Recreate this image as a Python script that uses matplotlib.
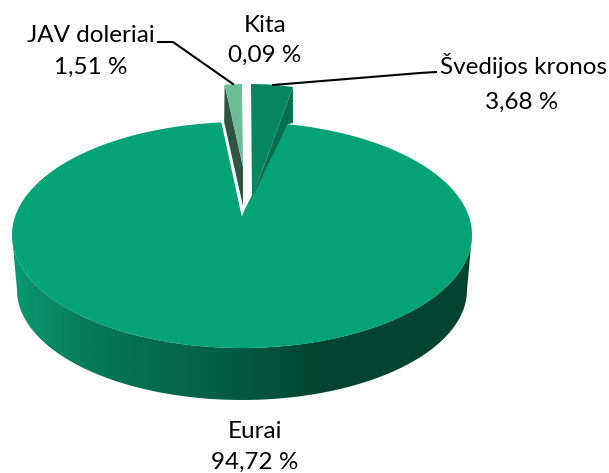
import matplotlib

matplotlib.use("Agg")
import matplotlib.pyplot as plt
import numpy as np
from matplotlib.colors import LinearSegmentedColormap
from matplotlib.patches import PathPatch, Polygon
from matplotlib.path import Path

names = ["Švedijos kronos", "Eurai", "JAV doleriai", "Kita"]
shares = [3.68, 94.72, 1.51, 0.09]
value_labels = ["3,68 %", "94,72 %", "1,51 %", "0,09 %"]

plt.rcParams["font.family"] = ["Lato", "DejaVu Sans"]

TOP_COLOR = "#03a375"
SWEDISH_COLOR = "#06875f"
SWEDISH_SIDE = "#056f4e"
USD_COLOR = "#6dbd97"
USD_SIDE = "#2f5443"
WALL_COLORS = ["#0a9a70", "#067a56", "#06694a", "#045a40", "#02452f", "#034430", "#034430"]


def rim(cx, cy, a, b, start, end, n=200):
    t = np.radians(np.linspace(start, end, n))
    return np.column_stack([cx + a * np.sin(t), cy - b * np.cos(t)])


fig = plt.figure(figsize=(6.09, 4.73), dpi=100)
ax = fig.add_axes([0, 0, 1, 1])
ax.set_xlim(0, 609)
ax.set_ylim(473, 0)
ax.axis("off")

# slice angles, clockwise from twelve o'clock
edges = np.cumsum([0] + shares) / 100 * 360

# outer wall of the big slice, shaded left to right
top_front = rim(242, 235, 230, 113, 270, 90)
low_front = rim(242, 290, 225, 110, 90, 270)
wall = Path(np.vstack([top_front, low_front, top_front[:1]]))
wall_patch = PathPatch(wall, fc="none", ec="none")
ax.add_patch(wall_patch)
cmap = LinearSegmentedColormap.from_list("wall", WALL_COLORS)
im = ax.imshow(np.linspace(0, 1, 256)[None, :], cmap=cmap, extent=(12, 472, 405, 230), aspect="auto", zorder=1)
im.set_clip_path(wall_patch)
ax.set_xlim(0, 609)
ax.set_ylim(473, 0)

# big slice top, the notch edges look narrower than the rim angle
squeeze = 200 / 230
start = np.degrees(np.arcsin(squeeze * np.sin(np.radians(edges[1]))))
end = 360 - np.degrees(np.arcsin(squeeze * np.sin(np.radians(360 - edges[2]))))
rim_pts = rim(242, 235, 230, 113, start, end, 400)
apex = (242, 215)
ax.add_patch(Polygon(np.vstack([rim_pts, apex]), fc=TOP_COLOR, ec="none", zorder=2))
ax.plot([rim_pts[-1, 0], apex[0]], [rim_pts[-1, 1], apex[1]], color="white", lw=0.8, zorder=3)

# Swedish krona slice, pulled out to the right
sek_rim = rim(251, 198, 183, 114, edges[0], edges[1], 30)
sek_end = sek_rim[-1]
ax.add_patch(Polygon([sek_end, (252, 198), (288, 124), (sek_end[0], 123)], fc=SWEDISH_SIDE, ec="none", zorder=4))
ax.add_patch(Polygon(np.vstack([sek_rim, (252, 198)]), fc=SWEDISH_COLOR, ec="none", zorder=5))

# USD slice, pulled out to the left
usd_rim = rim(243, 198, 183, 114, edges[2] - 360, edges[3] - 360, 30)
usd_left = usd_rim[0]
ax.add_patch(Polygon([usd_left, (243, 167), (243, 206), (usd_left[0] - 0.5, 122)], fc=USD_SIDE, ec="none", zorder=4))
ax.add_patch(Polygon([usd_left, usd_rim[-1], (243, 167)], fc=USD_COLOR, ec="none", zorder=5))

# leader lines
line_kw = dict(color="black", lw=1.5, solid_joinstyle="miter", zorder=6)
ax.plot([158, 173, 233], [42, 42, 84], **line_kw)
ax.plot([436, 420, 273], [72, 73, 85], **line_kw)

# labels
text_kw = dict(fontsize=17.5, ha="center", va="center", color="black", zorder=7)
name_pos = [(523, 66), (255, 431), (91, 36), (265, 25)]
value_pos = [(522, 102), (255, 462), (91, 67), (265, 55)]
for name, label, np_, vp in zip(names, value_labels, name_pos, value_pos):
    ax.text(np_[0], np_[1], name, **text_kw)
    ax.text(vp[0], vp[1], label, **text_kw)

fig.savefig("out.png", dpi=100)
